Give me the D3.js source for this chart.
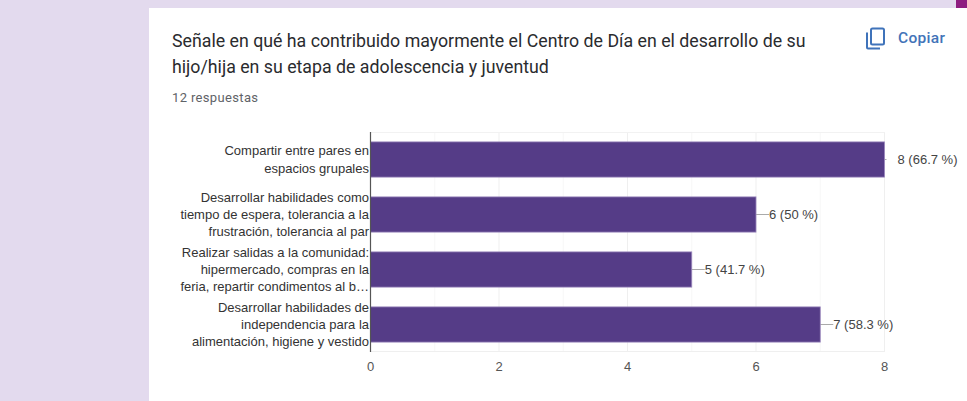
<!DOCTYPE html>
<html>
<head>
<meta charset="utf-8">
<script src="https://cdn.jsdelivr.net/npm/d3@7"></script>
<style>
  html, body { margin: 0; padding: 0; background: #e3daee; overflow: hidden; }
</style>
</head>
<body>
<div id="chart"></div>
<script>
  const categories = [
    ["Compartir entre pares en", "espacios grupales"],
    ["Desarrollar habilidades como", "tiempo de espera, tolerancia a la", "frustración, tolerancia al par"],
    ["Realizar salidas a la comunidad:", "hipermercado, compras en la", "feria, repartir condimentos al b…"],
    ["Desarrollar habilidades de", "independencia para la", "alimentación, higiene y vestido"],
  ];
  const counts = [8, 6, 5, 7];
  const valueLabels = ["8 (66.7 %)", "6 (50 %)", "5 (41.7 %)", "7 (58.3 %)"];
  const majorTicks = [0, 2, 4, 6, 8];
  const minorTicks = [1, 3, 5, 7];
  const titleLines = [
    "Señale en qué ha contribuido mayormente el Centro de Día en el desarrollo de su",
    "hijo/hija en su etapa de adolescencia y juventud",
  ];

  const W = 967, H = 401;
  const plot = { left: 370.5, right: 884.5, top: 132, bottom: 352 };

  const svg = d3.select("#chart").append("svg")
    .attr("width", W).attr("height", H)
    .style("display", "block");

  // fondo y tarjeta
  svg.append("rect").attr("width", W).attr("height", H).attr("fill", "#e3daee");
  svg.append("rect").attr("x", 149).attr("y", 8).attr("width", W - 149).attr("height", H - 8).attr("fill", "#fff");
  svg.append("rect").attr("x", 956).attr("y", 0).attr("width", 11).attr("height", 8).attr("fill", "#8e1c80");

  // encabezado
  svg.selectAll("text.title").data(titleLines).enter().append("text")
    .attr("class", "title")
    .attr("x", 172)
    .attr("y", (d, i) => 47 + i * 26)
    .attr("font-family", "Roboto, sans-serif")
    .attr("font-size", 17.75)
    .attr("fill", "#2a2b2e")
    .text((d) => d);

  svg.append("text")
    .attr("x", 172).attr("y", 102)
    .attr("font-family", "Roboto, sans-serif")
    .attr("font-size", 13)
    .attr("letter-spacing", 0.35)
    .attr("fill", "#5f6368")
    .text("12 respuestas");

  // botón copiar
  const copy = svg.append("g").attr("transform", "translate(866,27)")
    .attr("fill", "none").attr("stroke", "#3f73ba").attr("stroke-width", 2);
  copy.append("rect").attr("x", 5).attr("y", 1.5).attr("width", 13).attr("height", 16).attr("rx", 1.5);
  copy.append("path").attr("d", "M1 5.5V20.5Q1 21.5 2 21.5H14");

  svg.append("text")
    .attr("x", 898).attr("y", 43)
    .attr("font-family", "Roboto, sans-serif")
    .attr("font-size", 15.5)
    .attr("font-weight", 500)
    .attr("letter-spacing", 0.3)
    .attr("fill", "#4273b8")
    .text("Copiar");

  // escalas
  const x = d3.scaleLinear().domain([0, 8]).range([plot.left, plot.right]);
  const y = d3.scaleBand().domain(d3.range(counts.length))
    .range([plot.top, plot.bottom]).paddingInner(0.36).paddingOuter(0.18);

  // rejilla
  const grid = svg.append("g");
  grid.selectAll("line.minor").data(minorTicks).enter().append("line")
    .attr("x1", (d) => x(d)).attr("x2", (d) => x(d))
    .attr("y1", plot.top).attr("y2", plot.bottom)
    .attr("stroke", "#f7f7f7");
  grid.selectAll("line.major").data(majorTicks.slice(1)).enter().append("line")
    .attr("x1", (d) => x(d)).attr("x2", (d) => x(d))
    .attr("y1", plot.top).attr("y2", plot.bottom)
    .attr("stroke", "#efefef");
  grid.append("line")
    .attr("x1", plot.left).attr("x2", plot.right)
    .attr("y1", plot.top + 0.5).attr("y2", plot.top + 0.5).attr("stroke", "#f2f2f2");
  grid.append("line")
    .attr("x1", plot.left).attr("x2", plot.right)
    .attr("y1", plot.bottom - 0.5).attr("y2", plot.bottom - 0.5).attr("stroke", "#efefef");

  // líneas guía de las etiquetas
  svg.selectAll("line.leader").data(counts).enter().append("line")
    .attr("class", "leader")
    .attr("x1", (d) => x(d))
    .attr("x2", (d) => x(d) + (d === 8 ? 2 : 13))
    .attr("y1", (d, i) => y(i) + y.bandwidth() / 2)
    .attr("y2", (d, i) => y(i) + y.bandwidth() / 2)
    .attr("stroke", "#aaaaaa");

  // barras
  svg.selectAll("rect.bar").data(counts).enter().append("rect")
    .attr("class", "bar")
    .attr("x", plot.left)
    .attr("y", (d, i) => y(i))
    .attr("width", (d) => x(d) - plot.left)
    .attr("height", y.bandwidth())
    .attr("fill", "#553c87")
    .attr("stroke", "#9b87bd")
    .attr("stroke-width", 0.8);

  // eje vertical
  svg.append("line")
    .attr("x1", plot.left).attr("x2", plot.left)
    .attr("y1", plot.top).attr("y2", plot.bottom)
    .attr("stroke", "#555").attr("stroke-width", 1.2);

  // etiquetas de valor
  svg.selectAll("text.value").data(valueLabels).enter().append("text")
    .attr("class", "value")
    .attr("x", (d, i) => x(counts[i]) + 13)
    .attr("y", (d, i) => y(i) + y.bandwidth() / 2 + 4.5)
    .attr("font-family", "'Liberation Sans', Arial, sans-serif")
    .attr("font-size", 13)
    .attr("fill", "#444")
    .text((d) => d);

  // etiquetas de categoría
  categories.forEach((lines, i) => {
    const cy = y(i) + y.bandwidth() / 2;
    svg.append("g").selectAll("text").data(lines).enter().append("text")
      .attr("x", plot.left - 1.5)
      .attr("y", (d, j) => cy + (j - (lines.length - 1) / 2) * 17.3 + 4.5)
      .attr("text-anchor", "end")
      .attr("font-family", "'Liberation Sans', Arial, sans-serif")
      .attr("font-size", 13)
      .attr("fill", "#333")
      .text((d) => d);
  });

  // ticks del eje x
  svg.selectAll("text.tick").data(majorTicks).enter().append("text")
    .attr("class", "tick")
    .attr("x", (d) => x(d))
    .attr("y", 371)
    .attr("text-anchor", "middle")
    .attr("font-family", "'Liberation Sans', Arial, sans-serif")
    .attr("font-size", 13)
    .attr("fill", "#555")
    .text((d) => d);
</script>
</body>
</html>
